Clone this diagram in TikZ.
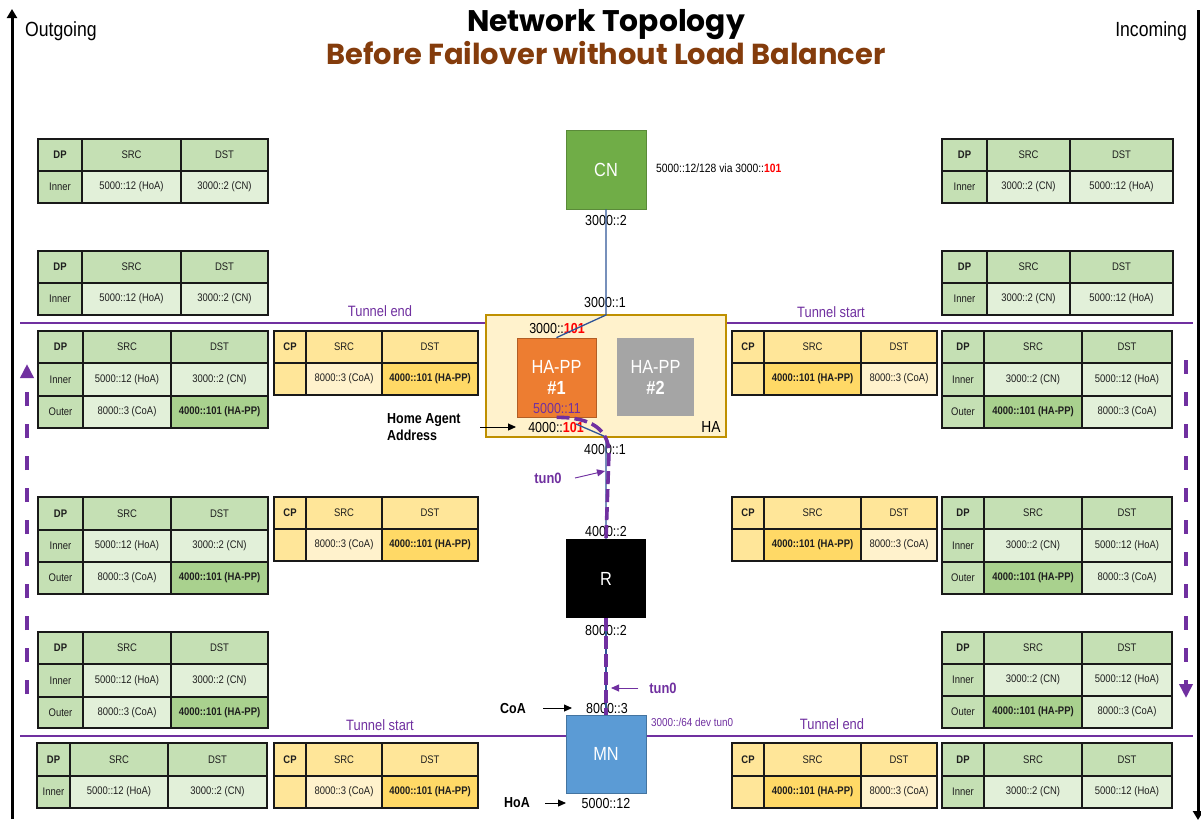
\documentclass[tikz,border=0pt]{standalone}
\usepackage{fontspec}
\usetikzlibrary{arrows.meta,calc}
\newfontfamily\nar{Liberation Sans}[FakeStretch=0.86]
\newfontfamily\ttl{Poppins}

\definecolor{gH}{HTML}{C5E0B4}
\definecolor{gL}{HTML}{E2F0D9}
\definecolor{gB}{HTML}{A9D18E}
\definecolor{yH}{HTML}{FFE699}
\definecolor{yB}{HTML}{FFD966}
\definecolor{yL}{HTML}{FFF2CC}
\definecolor{tunpurple}{HTML}{7030A0}
\definecolor{titlebrown}{HTML}{843C0C}
\definecolor{linkblue}{HTML}{2F5597}
\definecolor{cngreen}{HTML}{70AD47}
\definecolor{ppora}{HTML}{ED7D31}
\definecolor{ppgrey}{HTML}{A5A5A5}
\definecolor{mnblue}{HTML}{5B9BD5}
\definecolor{habox}{HTML}{FFF2CC}
\definecolor{haedge}{HTML}{BF9000}
\definecolor{celltxt}{HTML}{1E1E1E}

% column edges of the table being drawn
\newcommand\setcols[4]{\def\colA{#1}\def\colB{#2}\def\colC{#3}\def\colD{#4}}
% one table row: name, top, bottom, then fill/text for the three cells
\newcommand\trow[9]{%
  \draw[cellline,fill=#4] (\colA,#2) rectangle (\colB,#3);
  \draw[cellline,fill=#6] (\colB,#2) rectangle (\colC,#3);
  \draw[cellline,fill=#8] (\colC,#2) rectangle (\colD,#3);
  \node[celltext] (#1a) at ({(\colA+\colB)/2},{(#2+#3)/2}) {#5};
  \node[celltext] (#1b) at ({(\colB+\colC)/2},{(#2+#3)/2}) {#7};
  \node[celltext] (#1c) at ({(\colC+\colD)/2},{(#2+#3)/2}) {#9};}
\newcommand\ghead[3]{\trow{#1}{#2}{#3}{gH}{\bfseries DP}{gH}{SRC}{gH}{DST}}
\newcommand\yhead[3]{\trow{#1}{#2}{#3}{yH}{\bfseries CP}{yH}{SRC}{yH}{DST}}
\newcommand\innerL[3]{\trow{#1}{#2}{#3}{gH}{Inner}{gL}{5000::12 (HoA)}{gL}{3000::2 (CN)}}
\newcommand\outerL[3]{\trow{#1}{#2}{#3}{gH}{Outer}{gL}{8000::3 (CoA)}{gB}{\bfseries 4000::101 (HA-PP)}}
\newcommand\innerR[3]{\trow{#1}{#2}{#3}{gH}{Inner}{gL}{3000::2 (CN)}{gL}{5000::12 (HoA)}}
\newcommand\outerR[3]{\trow{#1}{#2}{#3}{gH}{Outer}{gB}{\bfseries 4000::101 (HA-PP)}{gL}{8000::3 (CoA)}}
\newcommand\cpL[3]{\trow{#1}{#2}{#3}{yH}{}{yL}{8000::3 (CoA)}{yB}{\bfseries 4000::101 (HA-PP)}}
\newcommand\cpR[3]{\trow{#1}{#2}{#3}{yH}{}{yB}{\bfseries 4000::101 (HA-PP)}{yL}{8000::3 (CoA)}}

\tikzset{
  cellline/.style={draw=black!90, line width=1.2pt},
  celltext/.style={font=\nar\fontsize{11}{13}\selectfont, text=celltxt, inner sep=0pt},
  lbl/.style={font=\nar\fontsize{14.5}{16}\selectfont, inner sep=0pt},
  boldlbl/.style={font=\nar\bfseries\fontsize{14.5}{17}\selectfont, inner sep=0pt},
  tunlbl/.style={font=\nar\fontsize{15}{17}\selectfont, text=tunpurple, inner sep=0pt},
  devbox/.style={minimum width=80pt, minimum height=79pt, inner sep=0pt,
    text=white, font=\nar\fontsize{19}{22}\selectfont, align=center},
  axisline/.style={line width=3pt, -{Triangle[length=9pt,width=10pt]}},
  tunline/.style={draw=tunpurple, line width=2.6pt},
  sideflow/.style={draw=tunpurple, line width=4pt, dash pattern=on 14pt off 18pt,
    -{Triangle[length=14pt,width=13pt,fill=tunpurple]}},
  pathflow/.style={draw=tunpurple, line width=3.6pt, dash pattern=on 13pt off 5pt},
  link/.style={draw=linkblue, line width=1.3pt},
  pointer/.style={line width=0.9pt, -{Triangle[length=8pt,width=7pt]}},
}

\begin{document}
\begin{tikzpicture}[x=1pt,y=-1pt]
\useasboundingbox (0,0) rectangle (1201,820);
\fill[white] (0,0) rectangle (1201,820);

% ---- titles and direction axes
\node[font=\ttl\bfseries\fontsize{29.8}{32}\selectfont] (title) at (606,25) {Network Topology};
\node[font=\ttl\bfseries\fontsize{28.9}{31}\selectfont, text=titlebrown] (subtitle) at (606,53) {Before Failover without Load Balancer};
\node[anchor=west, font=\nar\fontsize{20.5}{22}\selectfont, inner sep=0pt] (outgoing) at (25,31) {Outgoing};
\node[anchor=east, font=\nar\fontsize{20.5}{22}\selectfont, inner sep=0pt] (incoming) at (1187,31) {Incoming};
\coordinate (outA) at (12,819);
\coordinate (outB) at (12,9);
\coordinate (inA) at (1198,10);
\coordinate (inB) at (1198,820);
\draw[axisline] (outA) -- (outB);
\draw[axisline] (inA) -- (inB);

% ---- tunnel boundaries
\coordinate (tunTopL) at (20,323);
\coordinate (tunTopR) at (1193,323);
\coordinate (tunBotL) at (20,736);
\coordinate (tunBotR) at (1193,736);
\draw[tunline] (tunTopL) -- (tunTopR);
\draw[tunline] (tunBotL) -- (tunBotR);
\node[tunlbl] (tunEndTop) at (380,311) {Tunnel end};
\node[tunlbl] (tunStartTop) at (831,312) {Tunnel start};
\node[tunlbl] (tunStartBot) at (380,725) {Tunnel start};
\node[tunlbl] (tunEndBot) at (832,724) {Tunnel end};

% ---- packet flow arrows at the sides
\coordinate (upA) at (27,694);
\coordinate (upB) at (27,364);
\coordinate (downA) at (1186,360);
\coordinate (downB) at (1186,698);
\draw[sideflow] (upA) -- (upB);
\draw[sideflow] (downA) -- (downB);

% ---- outgoing headers (left)
\setcols{38}{82}{181}{268}
\ghead{lo1h}{139}{171}
\innerL{lo1i}{171}{203}
\ghead{lo2h}{251}{283}
\innerL{lo2i}{283}{315}
\setcols{38}{83}{171}{268}
\ghead{lo3h}{331}{363}
\innerL{lo3i}{363}{396}
\outerL{lo3o}{396}{428}
\ghead{lo4h}{497}{530}
\innerL{lo4i}{530}{562}
\outerL{lo4o}{562}{594}
\ghead{lo5h}{632}{664}
\innerL{lo5i}{664}{697}
\outerL{lo5o}{697}{728}
\setcols{37}{70}{168}{267}
\ghead{lo6h}{743}{776}
\innerL{lo6i}{776}{808}

% ---- control plane headers (left)
\setcols{274}{306}{382}{478}
\yhead{lc1h}{331}{363}
\cpL{lc1r}{363}{395}
\yhead{lc2h}{497}{529}
\cpL{lc2r}{529}{561}
\yhead{lc3h}{743}{776}
\cpL{lc3r}{776}{808}

% ---- control plane headers (right)
\setcols{732}{764}{861}{937}
\yhead{rc1h}{331}{363}
\cpR{rc1r}{363}{395}
\yhead{rc2h}{497}{529}
\cpR{rc2r}{529}{561}
\yhead{rc3h}{743}{776}
\cpR{rc3r}{776}{808}

% ---- incoming headers (right)
\setcols{942}{987}{1070}{1173}
\ghead{ri1h}{139}{171}
\innerR{ri1i}{171}{203}
\ghead{ri2h}{251}{283}
\innerR{ri2i}{283}{315}
\setcols{942}{984}{1082}{1172}
\ghead{ri3h}{331}{363}
\innerR{ri3i}{363}{396}
\outerR{ri3o}{396}{428}
\ghead{ri4h}{497}{529}
\innerR{ri4i}{529}{562}
\outerR{ri4o}{562}{594}
\ghead{ri5h}{632}{664}
\innerR{ri5i}{664}{696}
\outerR{ri5o}{696}{728}
\ghead{ri6h}{743}{776}
\innerR{ri6i}{776}{808}

% ---- correspondent node
\node[devbox, fill=cngreen, draw=cngreen!80!black, line width=0.6pt] (cn) at (606,169.5) {CN};
\node[lbl] (cnaddr) at (606,221) {3000::2};
\node[anchor=west, font=\nar\fontsize{12}{14}\selectfont, inner sep=0pt] (cnroute) at (656,168)
  {5000::12/128 via 3000::\textcolor{red}{\bfseries 101}};

% ---- home agent
\node[minimum width=240pt, minimum height=122pt, fill=habox, draw=haedge, line width=1.5pt] (ha) at (606,376) {};
\node[devbox, minimum width=79pt, fill=ppora, draw=ppora!75!black, line width=0.8pt] (pp1) at (556.5,377.5)
  {HA-PP\\[-1pt]\bfseries\#1};
\node[devbox, minimum width=77pt, minimum height=78pt, fill=ppgrey] (pp2) at (655.5,377)
  {HA-PP\\[-1pt]\bfseries\#2};
\node[font=\nar\fontsize{16}{18}\selectfont, inner sep=0pt] (halbl) at (711,427) {HA};
\node[lbl] (ha3000) at (557,328.5) {3000::\textcolor{red}{\bfseries 101}};
\node[lbl, text=tunpurple] (pp5000) at (557,408) {5000::11};
\node[lbl] (ha4000) at (556,427) {4000::\textcolor{red}{\bfseries 101}};
\node[lbl] (ha3001) at (605,302) {3000::1};
\node[lbl] (ha4001) at (605,449) {4000::1};
\node[boldlbl, anchor=west, align=left] (hoaddr) at (387,427.5) {Home Agent\\Address};
\coordinate (hoaA) at (480,427);
\coordinate (hoaB) at (516,427);
\draw[pointer] (hoaA) -- (hoaB);

% ---- router and mobile node
\node[devbox, fill=black] (r) at (606,578.5) {R};
\node[lbl] (r4000) at (606,531) {4000::2};
\node[lbl] (r8000) at (606,630) {8000::2};
\node[devbox, minimum height=78pt, fill=mnblue, draw=mnblue!75!black, line width=0.8pt] (mn) at (606,754) {MN};
\node[lbl] (mncoa) at (607,708) {8000::3};
\node[lbl] (mnhoa) at (606,803) {5000::12};
\node[anchor=west, font=\nar\fontsize{11.5}{13}\selectfont, text=tunpurple, inner sep=0pt] (mnroute) at (651,722) {3000::/64 dev tun0};

% ---- links
\coordinate (haentry) at (606,315);
\coordinate (ha101) at (576,424);
\coordinate (haexit) at (606,437);
\draw[link] (cn.south) -- (haentry) -- (pp1.north);
\draw[link] (ha101) -- (haexit) -- (r.north);
\draw[link] (r.south) -- (mn.north);

% ---- tunnel path
\coordinate (tunbend) at (609,452);
\draw[pathflow] (pp1.south) .. controls (592,417) and (608,430) .. (tunbend) -- (r.north);
\draw[pathflow] (r.south) -- (mn.north);

% ---- tunnel interface callouts
\node[tunlbl, font=\nar\bfseries\fontsize{15}{17}\selectfont] (tun0a) at (548,478) {tun0};
\coordinate (tun0aA) at (575,478);
\coordinate (tun0aB) at (605,471);
\draw[pointer, draw=tunpurple, fill=tunpurple] (tun0aA) -- (tun0aB);
\node[tunlbl, font=\nar\bfseries\fontsize{15}{17}\selectfont] (tun0b) at (663,688) {tun0};
\coordinate (tun0bA) at (638,688);
\coordinate (tun0bB) at (611,688);
\draw[pointer, draw=tunpurple, fill=tunpurple] (tun0bA) -- (tun0bB);

% ---- address callouts at the mobile node
\node[boldlbl] (coalbl) at (513,708) {CoA};
\coordinate (coaA) at (543,708);
\coordinate (coaB) at (572,708);
\draw[pointer] (coaA) -- (coaB);
\node[boldlbl] (hoalbl) at (517,803) {HoA};
\coordinate (hoA) at (545,803);
\coordinate (hoB) at (566,803);
\draw[pointer] (hoA) -- (hoB);
\end{tikzpicture}
\end{document}
